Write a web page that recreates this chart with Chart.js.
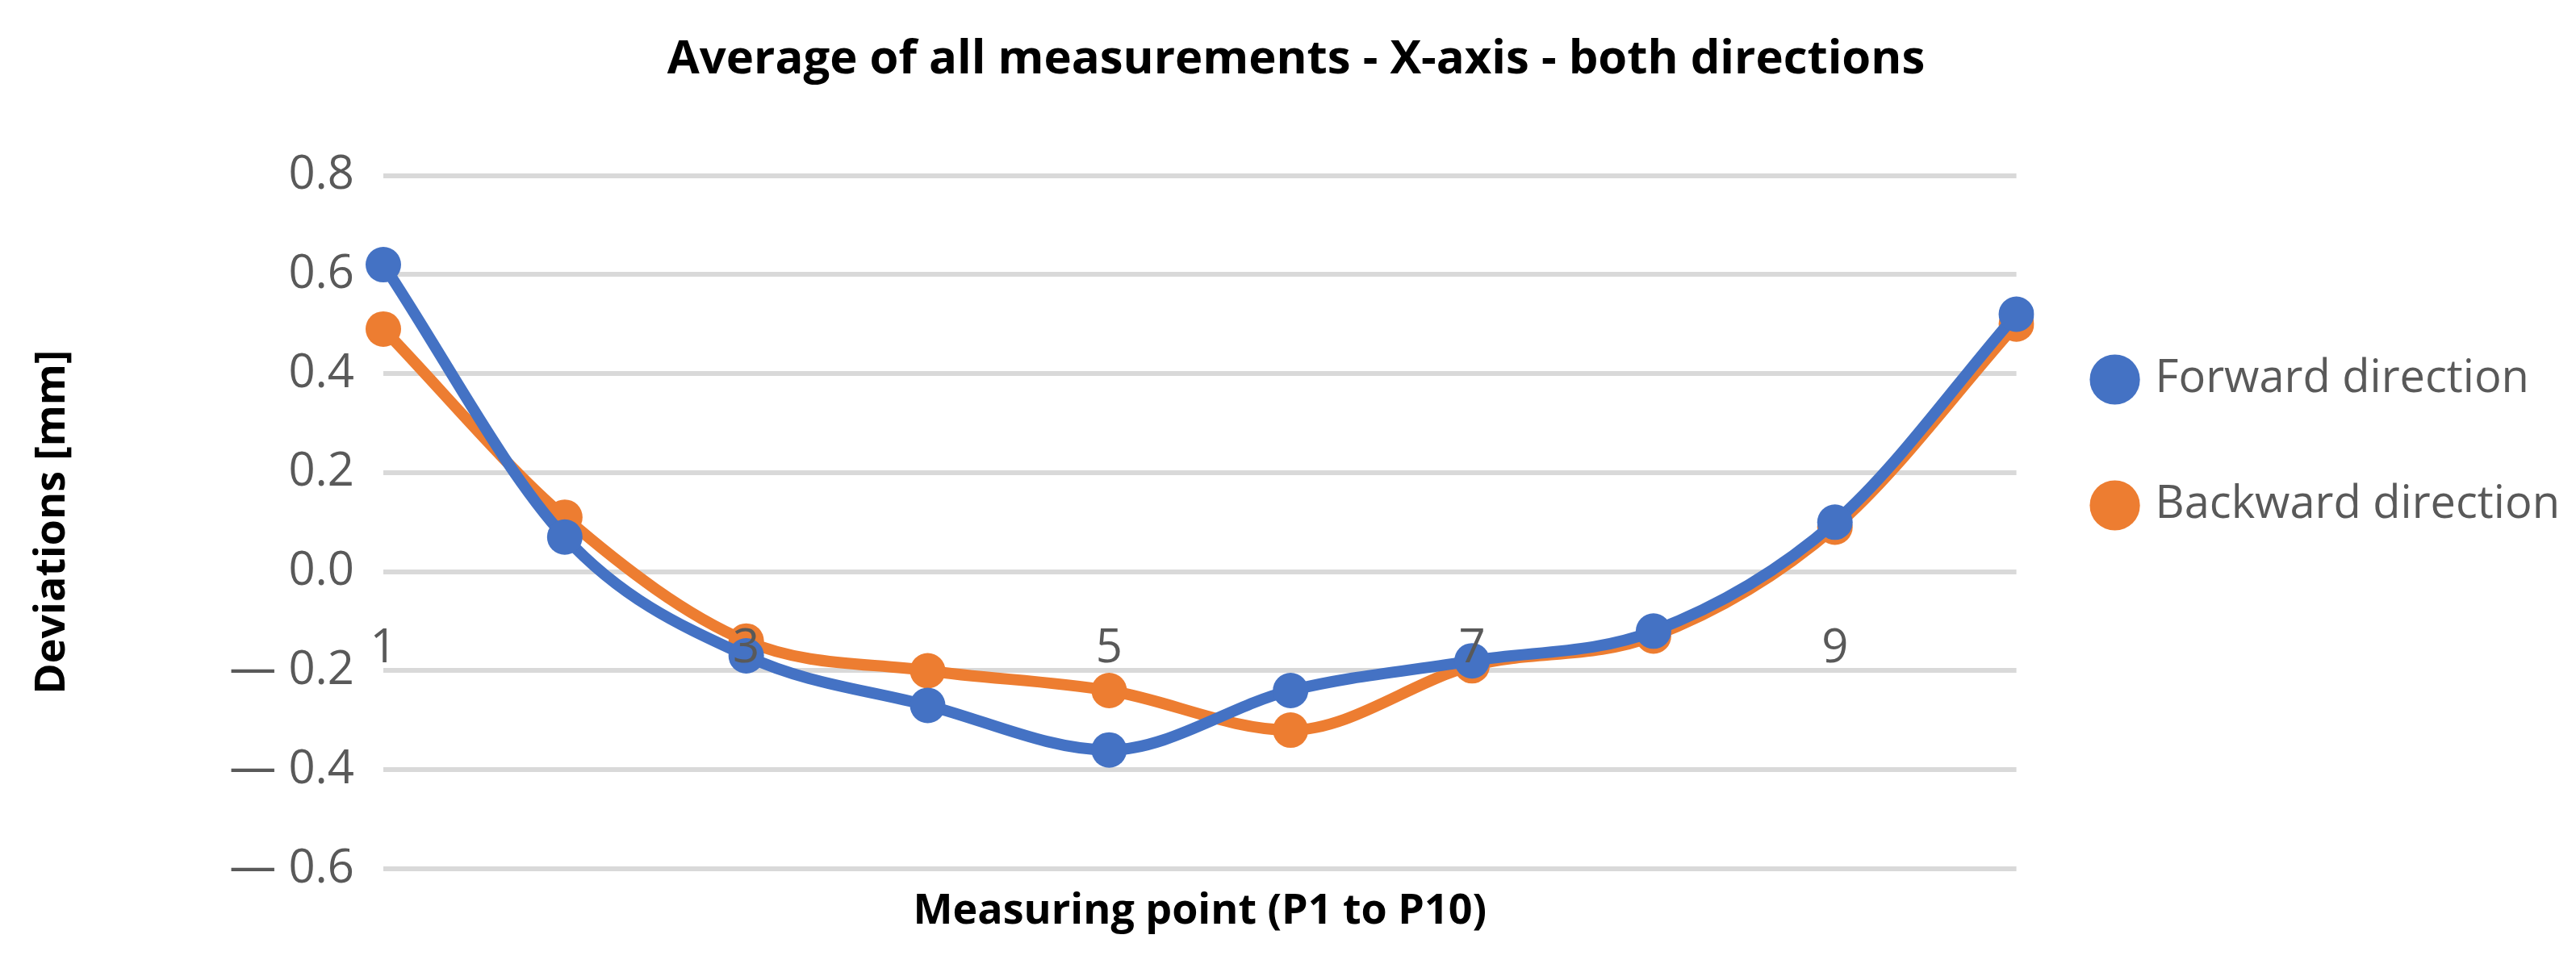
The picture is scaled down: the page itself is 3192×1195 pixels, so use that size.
<!DOCTYPE html>
<html>
<head>
<meta charset="utf-8">
<script src="https://cdn.jsdelivr.net/npm/chart.js@4"></script>
<style>
  html, body { margin: 0; padding: 0; background: #fff; }
  #wrap { width: 3192px; height: 1195px; }
</style>
</head>
<body>
<div id="wrap"><canvas id="chart" width="3192" height="1195"></canvas></div>
<script>
const points = ['1', '2', '3', '4', '5', '6', '7', '8', '9', '10'];
const forward = [0.62, 0.07, -0.17, -0.27, -0.36, -0.24, -0.18, -0.12, 0.10, 0.52];
const backward = [0.49, 0.11, -0.14, -0.20, -0.24, -0.32, -0.19, -0.13, 0.09, 0.50];
const yTicks = [0.8, 0.6, 0.4, 0.2, 0.0, -0.2, -0.4, -0.6];
const xLabelLevel = -0.156;

const font = '"Open Sans", sans-serif';

// x labels sit inside the plot and are painted over the lines, title at the bottom
const xLabels = {
    id: 'xLabels',
    afterDatasetsDraw(chart) {
        const { ctx, scales: { x, y }, chartArea } = chart;
        ctx.save();
        ctx.fillStyle = '#595959';
        ctx.font = '58px ' + font;
        ctx.textAlign = 'center';
        ctx.textBaseline = 'middle';
        points.forEach((p, i) => {
            if (i % 2 === 0) ctx.fillText(p, x.getPixelForValue(i), y.getPixelForValue(xLabelLevel));
        });
        ctx.fillStyle = '#000';
        ctx.font = 'bold 52px ' + font;
        ctx.fillText('Measuring point (P1 to P10)', (chartArea.left + chartArea.right) / 2, 1130);
        ctx.restore();
    }
};

new Chart(document.getElementById('chart').getContext('2d'), {
    type: 'line',
    data: {
        labels: points,
        datasets: [
            { label: 'Forward direction', data: forward, borderColor: '#4472C4', backgroundColor: '#4472C4' },
            { label: 'Backward direction', data: backward, borderColor: '#ED7D31', backgroundColor: '#ED7D31' }
        ]
    },
    options: {
        responsive: false,
        animation: false,
        layout: { padding: { top: 20, right: 10, bottom: 118, left: 30 } },
        elements: {
            line: { borderWidth: 14, tension: 0.4, cubicInterpolationMode: 'monotone' },
            point: { radius: 22, hoverRadius: 22, borderWidth: 0 }
        },
        plugins: {
            title: {
                display: true,
                text: 'Average of all measurements - X-axis - both directions',
                font: { family: font, size: 58, weight: 'bold' },
                color: '#000',
                padding: { top: 20, bottom: 108 }
            },
            legend: {
                position: 'right',
                labels: {
                    font: { family: font, size: 56 },
                    color: '#595959',
                    usePointStyle: true,
                    pointStyle: 'circle',
                    boxWidth: 44,
                    boxHeight: 44,
                    padding: 100
                }
            },
            tooltip: { enabled: false }
        },
        scales: {
            x: {
                display: false,
                offset: false
            },
            y: {
                min: -0.6,
                max: 0.8,
                afterBuildTicks: s => { s.ticks = yTicks.map(v => ({ value: v })); },
                afterFit: s => { s.width = 445; },
                grid: { color: '#d9d9d9', lineWidth: 6, drawTicks: false },
                border: { display: false },
                ticks: {
                    font: { family: font, size: 58 },
                    color: '#595959',
                    padding: 36,
                    callback: v => (v < 0 ? '\u2014 ' + Math.abs(v).toFixed(1) : v.toFixed(1))
                },
                title: {
                    display: true,
                    text: 'Deviations [mm]',
                    font: { family: font, size: 52, weight: 'bold' },
                    color: '#000'
                }
            }
        }
    },
    plugins: [xLabels]
});
</script>
</body>
</html>
